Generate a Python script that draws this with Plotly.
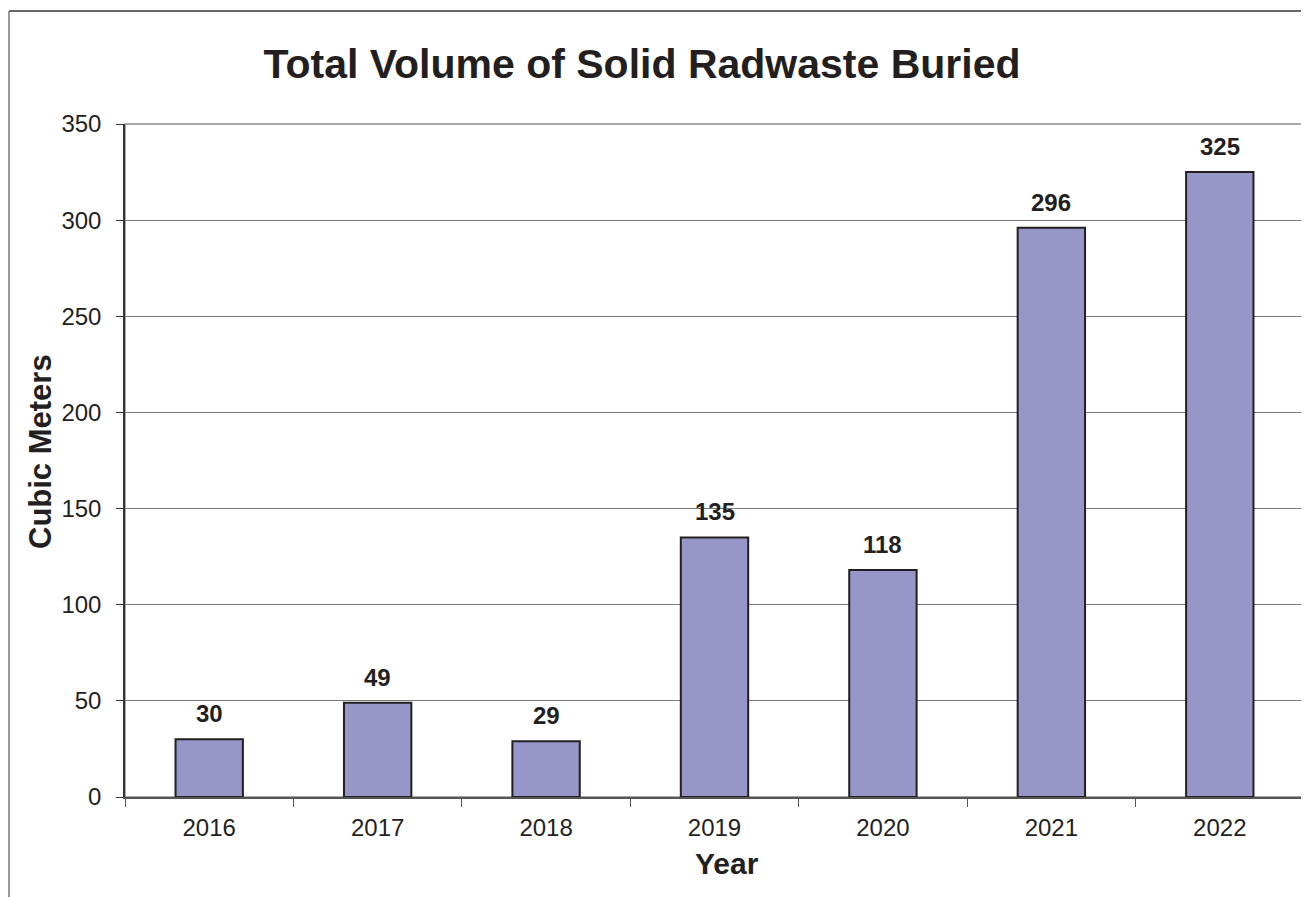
import plotly.graph_objects as go

years = ["2016", "2017", "2018", "2019", "2020", "2021", "2022"]
volume_m3 = [30, 49, 29, 135, 118, 296, 325]

# the page has an 8px body margin, so the figure is 8px smaller than the window
W, H = 1301, 889
L, R, T, B = 117, 5, 116, 100
pw, ph = W - L - R, H - T - B


def px_x(x):
    return (x - L) / pw


def px_y(y):
    return 1 - (y - T) / ph


FONT = "Liberation Sans, Arial, sans-serif"
INK = "#231f20"

fig = go.Figure()
fig.add_trace(
    go.Bar(
        x=years,
        y=volume_m3,
        marker=dict(color="#9696c8", line=dict(color=INK, width=2)),
        hoverinfo="x+y",
    )
)

# value labels above bars (x given as category index)
for i, v in enumerate(volume_m3):
    fig.add_annotation(
        x=i, y=v, text=f"<b>{v}</b>", showarrow=False,
        yanchor="bottom", yshift=10,
        font=dict(family=FONT, size=24, color=INK),
    )

# axis titles, placed as annotations (the original sits a bit off-centre)
fig.add_annotation(
    xref="paper", yref="paper", x=px_x(719), y=px_y(855),
    text="<b>Year</b>", showarrow=False, xanchor="center", yanchor="middle",
    font=dict(family=FONT, size=30, color=INK),
)
fig.add_annotation(
    xref="paper", yref="paper", x=px_x(32), y=px_y(444),
    text="<b>Cubic Meters</b>", showarrow=False, textangle=-90,
    xanchor="center", yanchor="middle",
    font=dict(family=FONT, size=31, color=INK),
)

# plot-area frame (gray) and outer chart border
fig.add_shape(type="rect", xref="paper", yref="paper", x0=0, y0=0, x1=1, y1=1,
              line=dict(color="#8c8c8c", width=1.5), layer="below")
fig.add_shape(type="line", xref="paper", yref="paper",
              x0=px_x(1), y0=px_y(3), x1=px_x(W + 5), y1=px_y(3),
              line=dict(color="#333333", width=1.5))
fig.add_shape(type="line", xref="paper", yref="paper",
              x0=px_x(1), y0=px_y(3), x1=px_x(1), y1=px_y(H + 5),
              line=dict(color="#777777", width=1.5))

fig.update_xaxes(
    type="category",
    range=[-0.5, len(years) - 0.5],
    tickson="boundaries",
    ticks="outside", ticklen=8, tickcolor="#555555", tickwidth=1,
    ticklabelstandoff=8,
    showgrid=False,
    showline=True, linecolor="#555555", linewidth=1.5,
    tickfont=dict(family=FONT, size=24, color=INK),
)
fig.update_yaxes(
    range=[0, 350], dtick=50,
    ticks="outside", ticklen=7, tickcolor="#333333", tickwidth=1,
    ticklabelstandoff=10,
    showgrid=True, gridcolor="#7a7a7a", gridwidth=1,
    showline=True, linecolor="#333333", linewidth=1.5,
    zeroline=False,
    tickfont=dict(family=FONT, size=24, color=INK),
)

fig.update_layout(
    width=W, height=H,
    margin=dict(l=L, r=R, t=T, b=B),
    paper_bgcolor="white", plot_bgcolor="white",
    bargap=0.6,
    showlegend=False,
    title=dict(text="<b>Total Volume of Solid Radwaste Buried</b>",
               font=dict(family=FONT, size=41, color=INK),
               x=634 / W, xanchor="center",
               y=1 - 56 / H, yanchor="middle"),
)

fig.write_html("out.html")
